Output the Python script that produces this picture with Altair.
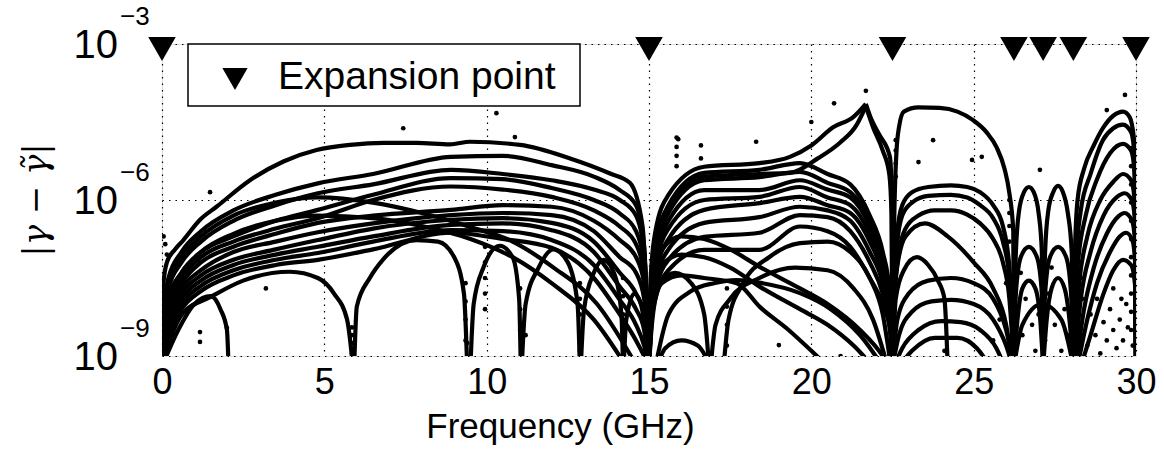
import altair as alt
import pandas as pd

# ---------------------------------------------------------------------------
# Error curves |gamma - gamma~| versus frequency.
# Every point is (frequency in GHz, log10 of the error).
# ---------------------------------------------------------------------------

# 0 - 15 GHz segment
S1_TOP = [(0.0, -9.2), (0.03, -7.7), (0.15, -7.2), (0.4, -6.95), (0.66, -6.77),
          (1.17, -6.38), (1.68, -6.13), (2.71, -5.62), (3.74, -5.26), (4.76, -5.04),
          (5.79, -4.94), (6.82, -4.9), (7.84, -4.9), (8.87, -4.93), (9.49, -4.88),
          (11.03, -4.94), (12.57, -5.2), (13.8, -5.49), (14.41, -5.67), (14.8, -6.5),
          (15.0, -9.2)]

S1_FREQ = [0.0, 0.04, 0.2, 0.6, 1.2, 2.2, 3.5, 4.8, 6.5, 8.9, 10.5, 12.0, 13.3, 14.1, 14.6, 14.85, 15.0]
S1_BAND = [
    [-9.2, -8.2, -7.5, -7.0, -6.6, -6.2, -5.9, -5.68, -5.5, -5.17, -5.15, -5.33, -5.55, -5.81, -6.1, -6.9, -9.2],
    [-9.2, -8.4, -7.7, -7.2, -6.8, -6.4, -6.1, -5.87, -5.7, -5.42, -5.5, -5.62, -5.8, -6.0, -6.3, -7.0, -9.2],
    [-9.2, -8.5, -7.9, -7.4, -7.0, -6.7, -6.4, -6.19, -5.9, -5.58, -5.6, -5.77, -6.0, -6.26, -6.6, -7.2, -9.2],
    [-9.2, -8.6, -8.0, -7.5, -7.1, -6.8, -6.55, -6.35, -6.0, -5.74, -5.8, -5.94, -6.2, -6.51, -6.85, -7.4, -9.2],
    [-9.2, -8.7, -8.1, -7.6, -7.2, -6.9, -6.65, -6.44, -6.3, -6.19, -6.1, -6.13, -6.4, -6.77, -7.1, -7.6, -9.2],
    [-9.2, -8.8, -8.2, -7.7, -7.35, -7.0, -6.8, -6.62, -6.45, -6.29, -6.25, -6.29, -6.6, -7.1, -7.4, -7.9, -9.2],
    [-9.2, -8.85, -8.3, -7.8, -7.45, -7.15, -6.95, -6.77, -6.55, -6.38, -6.35, -6.44, -6.8, -7.4, -7.8, -8.2, -9.2],
    [-9.2, -8.9, -8.4, -7.9, -7.55, -7.25, -7.05, -6.9, -6.7, -6.48, -6.45, -6.58, -7.0, -7.67, -8.1, -8.5, -9.2],
    [-9.2, -8.95, -8.5, -8.0, -7.65, -7.35, -7.15, -7.02, -6.8, -6.58, -6.6, -6.77, -7.25, -7.92, -8.4, -8.8, -9.2],
    [-9.2, -9.0, -8.6, -8.1, -7.75, -7.45, -7.25, -7.15, -6.95, -6.63, -6.75, -6.92, -7.5, -8.2, -8.7, -9.0, -9.2],
]

S1_OTHER = [
    # curves leaving the band and reaching zero before 15 GHz
    [(0.0, -9.2), (0.04, -8.3), (0.2, -7.6), (0.6, -7.1), (1.2, -6.7), (2.2, -6.3), (3.5, -6.05),
     (4.8, -5.95), (6.5, -6.05), (8.0, -6.25), (9.5, -6.52), (10.8, -6.8), (12.04, -7.29),
     (13.4, -8.0), (14.63, -9.2)],
    [(0.0, -9.2), (0.04, -8.6), (0.2, -7.9), (0.6, -7.4), (1.2, -7.0), (2.2, -6.65), (3.5, -6.4),
     (4.8, -6.3), (6.5, -6.35), (8.0, -6.5), (9.5, -6.75), (10.8, -7.1), (12.0, -7.6),
     (13.3, -8.3), (14.3, -9.2)],
    # lower lobes between zeros
    [(0.0, -9.2), (0.5, -8.5), (1.0, -8.0), (1.5, -7.85), (1.8, -8.1), (2.0, -8.5), (2.05, -9.2)],
    [(0.0, -9.2), (0.3, -8.6), (0.65, -8.17), (1.48, -7.87), (2.5, -7.55), (3.94, -7.38),
     (4.8, -7.5), (5.3, -7.8), (5.7, -8.3), (5.88, -9.2)],
    [(5.92, -9.2), (6.0, -8.05), (6.4, -7.5), (6.8, -7.15), (7.84, -6.77), (8.5, -6.8),
     (9.0, -7.1), (9.3, -7.8), (9.4, -9.2)],
    [(9.5, -9.2), (9.6, -8.0), (9.9, -7.3), (10.4, -6.88), (10.8, -7.1), (11.0, -7.9), (11.05, -9.2)],
    [(11.08, -9.2), (11.2, -8.0), (11.6, -7.3), (12.05, -6.95), (12.5, -7.2), (12.8, -8.0), (12.87, -9.2)],
    [(12.9, -9.2), (13.0, -8.1), (13.3, -7.4), (13.6, -7.15), (13.95, -7.45), (14.15, -8.2), (14.2, -9.2)],
    [(14.22, -9.2), (14.3, -8.3), (14.55, -7.8), (14.75, -8.0), (14.9, -8.6), (15.0, -9.2)],
]

# 15 - 22.5 GHz segment
S2_SPIKE = [
    [(15.0, -9.2), (15.05, -7.5), (15.2, -6.6), (15.6, -5.9), (16.7, -5.36), (18.4, -5.29),
     (19.34, -5.17), (20.0, -4.95), (20.67, -4.6), (21.3, -4.4), (21.68, -4.15)],
    [(21.68, -4.15), (21.85, -4.45), (22.1, -4.75), (22.42, -5.17), (22.48, -6.0), (22.5, -9.2)],
    [(15.0, -9.2), (15.05, -7.8), (15.25, -6.8), (15.7, -6.1), (16.7, -5.55), (18.4, -5.5),
     (19.34, -5.48), (20.2, -5.2), (20.88, -4.9), (21.4, -4.55), (21.68, -4.2)],
    [(21.68, -4.2), (21.9, -4.6), (22.2, -5.05), (22.4, -5.5), (22.47, -6.3), (22.5, -9.2)],
]

S2_FREQ = [15.0, 15.05, 15.2, 15.6, 16.7, 18.4, 19.65, 20.5, 21.2, 21.8, 22.2, 22.42, 22.5]
S2_BAND = [
    [-9.2, -8.0, -6.9, -6.1, -5.48, -5.42, -5.29, -5.5, -5.7, -6.3, -7.0, -7.8, -9.2],
    [-9.2, -8.1, -7.0, -6.25, -5.62, -5.56, -5.46, -5.67, -5.85, -6.4, -7.1, -7.9, -9.2],
    [-9.2, -8.2, -7.15, -6.4, -5.81, -5.81, -5.62, -5.8, -5.95, -6.5, -7.2, -8.0, -9.2],
    [-9.2, -8.3, -7.3, -6.55, -6.0, -5.94, -5.75, -5.95, -6.1, -6.65, -7.3, -8.1, -9.2],
    [-9.2, -8.4, -7.45, -6.75, -6.19, -6.06, -5.94, -6.1, -6.25, -6.8, -7.45, -8.2, -9.2],
    [-9.2, -8.5, -7.6, -6.95, -6.44, -6.33, -6.13, -6.2, -6.4, -7.0, -7.6, -8.3, -9.2],
    [-9.2, -8.6, -7.75, -7.15, -6.71, -6.63, -6.29, -6.33, -6.6, -7.2, -7.8, -8.4, -9.2],
    [-9.2, -8.7, -7.9, -7.35, -6.96, -6.96, -6.51, -6.6, -6.9, -7.5, -8.0, -8.5, -9.2],
]

S2_OTHER = [
    [(15.0, -9.2), (15.1, -7.6), (15.4, -6.95), (16.0, -6.7), (16.7, -6.75), (17.5, -6.95),
     (18.42, -7.29), (19.65, -7.7), (20.5, -8.0), (21.5, -8.5), (22.2, -9.0), (22.4, -9.2)],
    [(15.0, -9.2), (15.1, -7.9), (15.4, -7.25), (16.0, -7.05), (16.7, -7.1), (17.5, -7.3),
     (18.42, -7.67), (19.65, -8.1), (20.5, -8.4), (21.3, -8.8), (21.9, -9.2)],
    [(15.0, -9.2), (15.1, -8.2), (15.4, -7.6), (16.0, -7.45), (16.7, -7.5), (17.7, -7.6),
     (18.42, -8.06), (19.3, -8.5), (20.0, -8.9), (20.5, -9.2)],
    [(15.2, -9.2), (15.6, -8.2), (16.3, -7.75), (17.0, -7.6), (17.7, -7.54), (18.5, -7.6),
     (19.65, -7.79), (20.6, -8.1), (21.5, -8.6), (22.2, -9.2)],
    [(17.3, -9.2), (17.45, -8.3), (17.9, -7.6), (18.7, -7.1), (19.65, -6.83), (20.5, -6.8),
     (21.2, -7.0), (21.8, -7.5), (22.2, -8.2), (22.45, -9.2)],
    [(16.9, -9.2), (17.05, -8.4), (17.5, -7.9), (18.4, -7.5), (19.5, -7.3), (20.5, -7.35),
     (21.3, -7.7), (21.9, -8.3), (22.35, -9.2)],
    [(15.0, -9.2), (15.1, -8.1), (15.35, -7.6), (15.8, -7.4), (16.3, -7.6), (16.7, -8.2), (16.85, -9.2)],
    [(15.25, -9.2), (15.5, -8.85), (16.0, -8.7), (16.5, -8.8), (16.9, -9.2)],
]

# 22.5 - 26.2 GHz segment
S3_CURVES = [
    [(22.5, -9.2), (22.55, -6.5), (22.62, -5.1), (22.7, -4.6), (22.85, -4.3), (23.3, -4.22),
     (23.95, -4.23), (24.5, -4.3), (24.97, -4.46), (25.4, -4.7), (25.7, -4.98), (25.95, -5.4),
     (26.1, -5.87), (26.22, -6.6), (26.24, -9.2)],
    [(22.5, -9.2), (22.55, -7.5), (22.65, -6.6), (22.8, -6.1), (23.1, -5.85), (23.6, -5.75),
     (24.3, -5.72), (24.8, -5.75), (25.2, -5.85), (25.6, -6.1), (25.9, -6.5), (26.1, -7.3), (26.24, -9.2)],
    [(22.5, -9.2), (22.55, -7.7), (22.65, -6.8), (22.8, -6.3), (23.1, -6.05), (23.6, -5.92),
     (24.3, -5.9), (24.8, -5.95), (25.2, -6.1), (25.6, -6.35), (25.9, -6.8), (26.1, -7.5), (26.24, -9.2)],
    [(22.5, -9.2), (22.56, -7.9), (22.7, -7.0), (22.9, -6.55), (23.3, -6.3), (23.8, -6.2),
     (24.3, -6.2), (24.8, -6.28), (25.2, -6.45), (25.6, -6.75), (25.9, -7.2), (26.1, -7.9), (26.24, -9.2)],
    [(22.5, -9.2), (22.6, -7.5), (22.9, -6.7), (23.5, -6.45), (24.2, -6.7), (25.0, -7.2),
     (25.6, -7.7), (26.0, -8.4), (26.2, -9.2)],
    [(22.5, -9.2), (22.6, -7.9), (22.85, -7.35), (23.25, -7.1), (23.6, -7.25), (23.9, -7.55),
     (24.1, -7.9), (24.2, -9.2)],
    [(22.5, -9.2), (22.65, -8.3), (23.0, -7.8), (23.6, -7.55), (24.3, -7.5), (25.0, -7.6),
     (25.6, -7.9), (26.0, -8.5), (26.24, -9.2)],
    [(22.5, -9.2), (22.7, -8.6), (23.1, -8.15), (23.7, -7.95), (24.3, -7.92), (25.0, -8.0),
     (25.6, -8.3), (26.0, -8.8), (26.2, -9.2)],
    [(22.55, -9.2), (22.8, -8.85), (23.3, -8.5), (24.0, -8.33), (24.6, -8.35), (25.2, -8.5),
     (25.7, -8.85), (25.95, -9.2)],
    [(22.7, -9.2), (23.1, -8.9), (23.8, -8.65), (24.5, -8.65), (25.1, -8.85), (25.5, -9.2)],
]

# 26.2 - 28.1 GHz segment
S4_CURVES = [
    [(26.24, -9.2), (26.3, -7.0), (26.4, -6.2), (26.55, -5.85), (26.7, -5.75), (26.85, -5.85),
     (27.0, -6.25), (27.1, -7.0), (27.14, -9.2)],
    [(27.14, -9.2), (27.2, -7.0), (27.3, -6.2), (27.45, -5.85), (27.6, -5.73), (27.75, -5.85),
     (27.9, -6.25), (28.02, -7.0), (28.07, -9.2)],
    [(26.24, -9.2), (26.3, -7.8), (26.45, -7.1), (26.7, -6.9), (26.95, -7.1), (27.1, -7.8), (27.14, -9.2)],
    [(27.14, -9.2), (27.2, -7.8), (27.35, -7.1), (27.6, -6.9), (27.85, -7.1), (28.0, -7.8), (28.07, -9.2)],
    [(26.24, -9.2), (26.35, -8.3), (26.5, -7.7), (26.7, -7.55), (26.9, -7.7), (27.05, -8.3), (27.14, -9.2)],
    [(27.14, -9.2), (27.25, -8.3), (27.4, -7.7), (27.6, -7.5), (27.8, -7.7), (27.95, -8.3), (28.07, -9.2)],
    [(26.24, -9.2), (26.5, -8.4), (27.1, -8.0), (27.7, -8.3), (28.07, -9.2)],
]

# 28.1 - 30 GHz segment
S5_CURVES = [
    [(28.07, -9.2), (28.12, -7.0), (28.2, -6.0), (28.4, -5.4), (28.7, -4.95), (29.0, -4.6),
     (29.3, -4.38), (29.6, -4.3), (29.8, -4.4), (29.95, -4.9), (30.0, -9.2)],
    [(28.07, -9.2), (28.15, -7.2), (28.3, -6.2), (28.6, -5.5), (28.98, -4.85), (29.3, -4.62),
     (29.6, -4.55), (29.85, -4.7), (29.97, -5.3), (30.0, -9.2)],
    [(28.07, -9.2), (28.2, -7.3), (28.45, -6.3), (28.8, -5.6), (29.2, -5.1), (29.6, -4.92),
     (29.85, -5.05), (29.97, -5.6), (30.0, -9.2)],
    [(28.07, -9.2), (28.25, -7.6), (28.5, -6.7), (28.9, -6.0), (29.3, -5.65), (29.6, -5.5),
     (29.85, -5.62), (29.97, -6.1), (30.0, -9.2)],
    [(28.1, -9.2), (28.3, -7.9), (28.6, -7.0), (29.0, -6.3), (29.4, -5.95), (29.65, -5.87),
     (29.87, -6.0), (29.98, -6.5), (30.0, -9.2)],
    [(28.15, -9.2), (28.4, -8.1), (28.7, -7.3), (29.1, -6.65), (29.45, -6.32), (29.65, -6.25),
     (29.88, -6.4), (29.98, -6.9), (30.0, -9.2)],
    [(28.2, -9.2), (28.5, -8.3), (28.8, -7.6), (29.2, -7.0), (29.5, -6.7), (29.7, -6.63),
     (29.9, -6.8), (29.98, -7.3), (30.0, -9.2)],
    [(28.3, -9.2), (28.6, -8.6), (29.0, -7.8), (29.3, -7.35), (29.6, -7.15), (29.85, -7.25),
     (29.98, -7.7), (30.0, -9.2)],
]

# isolated samples (near zeros of the error and stray points)
DOT_FREQ = [5.85, 5.85, 5.85, 5.85, 9.35, 9.35, 9.35, 9.35, 9.95, 9.95, 9.95, 9.95, 9.95,
            11.03, 11.03, 11.03, 12.87, 12.87, 12.87, 12.87, 12.87, 14.2, 14.2, 14.2, 14.2,
            15.85, 15.85, 15.85, 15.85, 16.6, 16.6, 17.4, 17.4, 17.4, 17.4,
            22.6, 22.6, 22.6, 22.6, 26.1, 26.1, 26.1, 26.1,
            29.85, 29.85, 29.85, 29.85, 29.85, 29.85, 29.85, 29.85, 29.85, 29.85, 29.85,
            21.68, 7.43, 10.3, 10.87, 15.9, 18.3, 20.7, 23.75, 29.66, 29.1, 20.0, 23.3, 27.04,
            24.95, 25.25, 1.48, 0.05, 0.1, 0.15, 1.17, 1.17, 2.0, 9.4, 11.2, 19.0, 20.9, 24.1, 3.2,
            26.3, 26.5, 26.6, 26.8, 26.9, 27.0, 27.2, 27.3, 27.5, 27.7, 27.8, 27.9, 28.1, 28.2,
            28.35, 28.5, 28.6, 28.75, 28.9, 29.0, 29.1, 29.2, 29.3, 29.4, 29.5, 29.6, 29.7,
            29.75, 29.9, 25.8, 25.6, 26.0, 26.45, 27.4, 28.3, 28.8, 29.3, 29.55]
DOT_LOG = [-8.45, -8.6, -8.75, -8.95, -7.6, -7.95, -8.3, -8.7, -6.9, -7.2, -7.5, -7.8, -8.1,
           -7.7, -8.1, -8.5, -7.6, -7.9, -8.2, -8.55, -8.9, -7.5, -7.85, -8.2, -8.55,
           -4.8, -4.98, -5.15, -5.35, -4.95, -5.2, -7.7, -8.05, -8.4, -8.8,
           -4.85, -5.05, -5.3, -5.55, -6.0, -6.25, -6.5, -6.8,
           -5.0, -5.35, -5.7, -6.05, -6.4, -6.75, -7.1, -7.45, -7.8, -8.15, -8.5,
           -3.9, -4.62, -4.33, -4.79, -4.83, -4.88, -4.14, -4.85, -3.98, -4.27, -4.5, -5.27, -5.42,
           -5.23, -5.17, -5.85, -6.7, -6.85, -7.05, -8.54, -8.73, -8.46, -8.75, -8.6, -8.79, -9.0, -8.9, -7.7,
           -8.1, -8.6, -7.9, -8.4, -8.9, -8.2, -8.7, -7.8, -8.4, -8.9, -8.1, -8.6, -8.3, -8.9,
           -7.9, -8.8, -8.2, -8.6, -8.95, -8.35, -8.7, -8.1, -8.5, -8.85, -8.3, -8.7, -8.0,
           -8.45, -8.8, -8.3, -8.7, -7.6, -7.4, -7.3, -7.5, -7.9, -7.7, -7.9]

# expansion points (GHz), drawn on the top edge
EXPANSION_POINTS = [0.0, 15.0, 22.5, 26.24, 27.14, 28.07, 30.0]

X_TICKS = [0, 5, 10, 15, 20, 25, 30]
Y_TICKS = [-9, -6, -3]
Y_EXPONENTS = ["\u22129", "\u22126", "\u22123"]

# ---------------------------------------------------------------------------
curves = []
curves.append(S1_TOP)
curves += [list(zip(S1_FREQ, vals)) for vals in S1_BAND]
curves += S1_OTHER
curves += S2_SPIKE
curves += [list(zip(S2_FREQ, vals)) for vals in S2_BAND]
curves += S2_OTHER
curves += S3_CURVES
curves += S4_CURVES
curves += S5_CURVES

rows = []
for cid, pts in enumerate(curves):
    for i, (f, v) in enumerate(pts):
        rows.append({"curve": f"c{cid}", "idx": i, "f": f, "L": v})
line_df = pd.DataFrame(rows)
dot_df = pd.DataFrame({"f": DOT_FREQ, "L": DOT_LOG})
exp_df = pd.DataFrame({"f": EXPANSION_POINTS, "L": [-3.0] * len(EXPANSION_POINTS)})
ytick_df = pd.DataFrame({"L": Y_TICKS, "exp": Y_EXPONENTS})

FONT = "Liberation Sans"
xscale = alt.Scale(domain=[0, 30], nice=False, zero=False)
yscale = alt.Scale(domain=[-9, -3], nice=False, zero=False)

x_axis = alt.Axis(values=X_TICKS, grid=True, gridColor="black", gridDash=[1.5, 5],
                  gridWidth=1.2, gridOpacity=1, domain=False, ticks=False,
                  labelFontSize=36, labelFont=FONT, labelColor="black", labelPadding=9,
                  labelFlush=False,
                  title="Frequency (GHz)", titleFont=FONT, titleFontSize=35,
                  titleFontWeight="normal", titleColor="black",
                  titleX=398, titleY=53, titleBaseline="top", titleAlign="center")
y_axis = alt.Axis(values=Y_TICKS, grid=True, gridColor="black", gridDash=[1.5, 5],
                  gridWidth=1.2, gridOpacity=1, domain=False, ticks=False, labels=False,
                  title=None)

lines = alt.Chart(line_df).mark_line(
    color="black", strokeWidth=4.2, interpolate="monotone", clip=True
).encode(
    x=alt.X("f:Q", scale=xscale, axis=x_axis),
    y=alt.Y("L:Q", scale=yscale, axis=y_axis),
    detail="curve:N",
    order="idx:Q",
)

dots = alt.Chart(dot_df).mark_circle(color="black", size=22, opacity=1, clip=True).encode(
    x=alt.X("f:Q", scale=xscale), y=alt.Y("L:Q", scale=yscale)
)

markers = alt.Chart(exp_df).mark_point(
    shape="triangle-down", filled=True, color="black", size=760, opacity=1, yOffset=5
).encode(x=alt.X("f:Q", scale=xscale), y=alt.Y("L:Q", scale=yscale))

ten = alt.Chart(ytick_df).mark_text(
    text="10", align="right", baseline="middle", fontSize=40, font=FONT, color="black", dy=2
).encode(x=alt.value(-44), y=alt.Y("L:Q", scale=yscale))

expo = alt.Chart(ytick_df).mark_text(
    align="left", baseline="middle", fontSize=26, font=FONT, color="black", dy=-27
).encode(x=alt.value(-42), y=alt.Y("L:Q", scale=yscale), text="exp:N")

ytitle = alt.Chart(pd.DataFrame({"t": ["|\u03b3 \u2212 \u03b3\u0303|"]})).mark_text(
    angle=270, align="center", baseline="middle", fontSize=34, font="DejaVu Serif",
    fontStyle="italic", color="black"
).encode(x=alt.value(-125), y=alt.value(156), text="t:N")

legend_box = alt.Chart(pd.DataFrame({"k": [0]})).mark_rect(
    fill="white", stroke="black", strokeWidth=1.5
).encode(x=alt.value(26), x2=alt.value(418), y=alt.value(0), y2=alt.value(62))

legend_sym = alt.Chart(pd.DataFrame({"k": [0]})).mark_point(
    shape="triangle-down", filled=True, color="black", size=640, opacity=1
).encode(x=alt.value(73), y=alt.value(35))

legend_txt = alt.Chart(pd.DataFrame({"t": ["Expansion point"]})).mark_text(
    align="left", baseline="middle", fontSize=39, font=FONT, color="black"
).encode(x=alt.value(116), y=alt.value(33), text="t:N")

chart = alt.layer(
    lines, dots, legend_box, legend_sym, legend_txt, markers, ten, expo, ytitle
).properties(
    width=974, height=312,
    padding={"left": 162, "top": 44, "right": 28, "bottom": 100},
    autosize=alt.AutoSizeParams(type="none"),
).configure_view(
    stroke="black", strokeWidth=1.5
).configure(font=FONT, background="white")

chart.save("out.html", embed_options={"renderer": "svg", "actions": False})
